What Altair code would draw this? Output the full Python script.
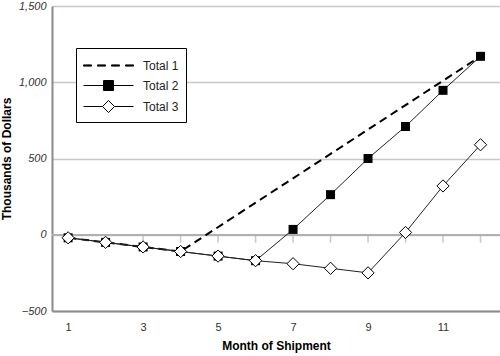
import altair as alt
import pandas as pd

months = list(range(1, 13))
total1_months = [1, 2, 3, 4, 12]
total1 = [-20, -50, -80, -110, 1170]
total2 = [-20, -50, -80, -110, -140, -170, 35, 263, 500, 710, 947, 1170]
total3 = [-20, -50, -80, -110, -140, -170, -190, -220, -250, 15, 320, 590]
series_names = ["Total 1", "Total 2", "Total 3"]
x_labels = [1, 3, 5, 7, 9, 11]
y_ticks = [-500, 0, 500, 1000, 1500]

rows = []
for m, v in zip(total1_months, total1):
    rows.append({"month": m, "value": v, "series": "Total 1"})
for m, v in zip(months, total2):
    rows.append({"month": m, "value": v, "series": "Total 2"})
for m, v in zip(months, total3):
    rows.append({"month": m, "value": v, "series": "Total 3"})
df = pd.DataFrame(rows)
ticks_df = pd.DataFrame({"month": months, "zero": [0] * len(months)})

FONT = "Liberation Sans"
xscale = alt.Scale(domain=[0.57, 12.52], nice=False, zero=False)
yscale = alt.Scale(domain=[-500, 1500], nice=False)

X = alt.X("month:Q", scale=xscale,
          axis=alt.Axis(values=x_labels, title="Month of Shipment", ticks=False,
                        grid=False, domainColor="#8a8a8a", domainWidth=2,
                        labelColor="#333", labelFont=FONT, labelFontSize=11,
                        labelPadding=10, titleFont=FONT, titleFontSize=12,
                        titleFontWeight="bold", titlePadding=8, format="d"))
Y = alt.Y("value:Q", scale=yscale,
          axis=alt.Axis(values=y_ticks, title="Thousands of Dollars", ticks=False,
                        grid=True, gridColor="#c8c8c8", gridWidth=1.5,
                        domainColor="#8a8a8a", domainWidth=2, labelColor="#333",
                        labelFont=FONT, labelFontSize=11, labelFontStyle="italic",
                        labelPadding=6, format=",d", titleFont=FONT, titleFontSize=12,
                        titleFontWeight="bold", titlePadding=5))

base = alt.Chart(df)

zero_line = alt.Chart(ticks_df).mark_rule(color="#b0b0b0", strokeWidth=1.5).encode(
    y=alt.Y("zero:Q", scale=yscale))
zero_ticks = alt.Chart(ticks_df).mark_tick(
    orient="vertical", color="#b0b0b0", size=8, thickness=1.5, yOffset=4
).encode(x=alt.X("month:Q", scale=xscale), y=alt.Y("zero:Q", scale=yscale))

line1 = base.transform_filter(alt.datum.series == "Total 1").mark_line(
    color="black", strokeWidth=2, strokeDash=[8, 5]).encode(x=X, y=Y)
line23 = base.transform_filter(alt.datum.series != "Total 1").mark_line(
    color="#222", strokeWidth=1).encode(x=X, y=Y, detail="series:N")
squares = base.transform_filter(alt.datum.series == "Total 2").mark_point(
    shape="square", filled=True, color="black", size=81, opacity=1).encode(x=X, y=Y)
diamonds = base.transform_filter(alt.datum.series == "Total 3").mark_point(
    shape="diamond", fill="white", stroke="black", strokeWidth=1, size=150,
    opacity=1, filled=False).encode(x=X, y=Y)

# legend glyphs (unit = 10 px; symbol centred at 0, drawn from -1 to 4)
p1 = ("M-1,-0.06H-0.2V0.06H-1ZM0.4,-0.06H1.2V0.06H0.4Z"
      "M1.8,-0.06H2.6V0.06H1.8ZM3.2,-0.06H4V0.06H3.2Z")
p2 = "M-1,0H1M2,0H4M1,-0.5H2V0.5H1Z"
p3 = "M-1,0H0.9M2.1,0H4M0.9,0L1.5,-0.6L2.1,0L1.5,0.6Z"

legend_layer = base.transform_filter(alt.datum.month > 100).mark_point(
    filled=True, strokeWidth=1, opacity=1).encode(
    x=X, y=Y,
    shape=alt.Shape("series:N", scale=alt.Scale(domain=series_names, range=[p1, p2, p3]),
                    legend=alt.Legend(title=None)),
    fill=alt.Fill("series:N", scale=alt.Scale(domain=series_names,
                                              range=["black", "black", "white"]),
                  legend=alt.Legend(title=None)),
    stroke=alt.Stroke("series:N", scale=alt.Scale(domain=series_names,
                                                  range=["black", "black", "black"]),
                      legend=alt.Legend(title=None)),
)

chart = alt.layer(zero_line, zero_ticks, line1, line23, squares, diamonds, legend_layer).properties(
    width=448, height=305,
    padding={"left": 52, "top": 6, "right": 0, "bottom": 45},
    autosize=alt.AutoSizeParams(type="none"),
).configure_view(stroke=None).configure_legend(
    orient="none", legendX=24, legendY=42, padding=7, rowPadding=3,
    strokeColor="black", strokeWidth=1, fillColor="white", cornerRadius=0,
    symbolSize=400, symbolOpacity=1, symbolStrokeWidth=1,
    labelFont=FONT, labelFontSize=12, labelColor="#222", labelOffset=39,
)

chart.save("out.html", embed_options={"renderer": "svg", "actions": False})
